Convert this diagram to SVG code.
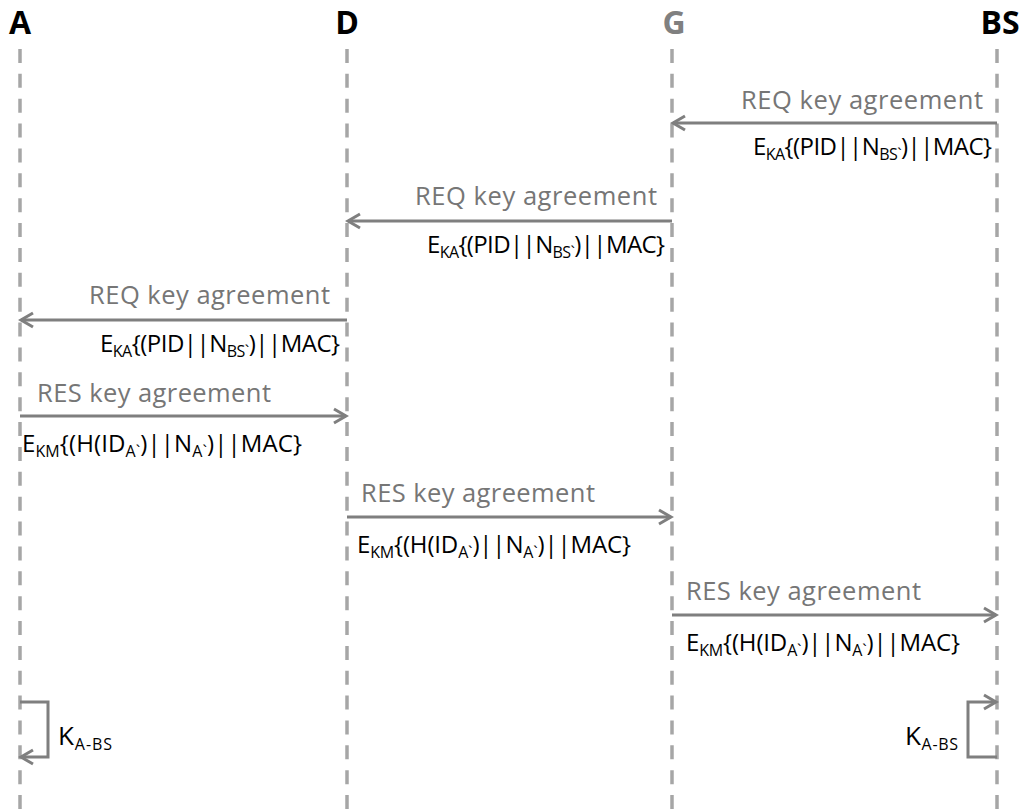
<svg xmlns="http://www.w3.org/2000/svg" width="1023" height="811" viewBox="0 0 1023 811">
  <style>
    .life { stroke: #a6a6a6; stroke-width: 3.5; stroke-dasharray: 14 10.87; fill: none; }
    .msg { stroke: #7f7f7f; stroke-width: 3; fill: none; }
    .head { font-family: "Open Sans", "Noto Sans", sans-serif; font-weight: bold; font-size: 32px; fill: #000; }
    .label { font-family: "Open Sans", "Noto Sans", sans-serif; font-size: 25.5px; fill: #767676; }
    .expr { font-family: "Open Sans", "Noto Sans", sans-serif; font-size: 24px; fill: #000; }
    .key { font-size: 26px; }
    .sub { font-size: 16px; }
  </style>
  <defs>
    <marker id="arrow" markerUnits="userSpaceOnUse" markerWidth="20" markerHeight="20" viewBox="-16 -10 20 20" refX="0" refY="0" orient="auto">
      <path d="M -12 -7 L 0 0 L -12 7" fill="none" stroke="#7f7f7f" stroke-width="3"/>
    </marker>
  </defs>
  <rect width="1023" height="811" fill="#fff"/>

  <!-- participants and lifelines -->
  <g id="A">
    <text class="head" x="20" y="34" text-anchor="middle">A</text>
    <line class="life" x1="20" y1="49" x2="20" y2="811"/>
  </g>
  <g id="D">
    <text class="head" x="347" y="34" text-anchor="middle">D</text>
    <line class="life" x1="347" y1="49" x2="347" y2="811"/>
  </g>
  <g id="G">
    <text class="head" x="674" y="34" text-anchor="middle" style="fill:#808080">G</text>
    <line class="life" x1="672" y1="49" x2="672" y2="811"/>
  </g>
  <g id="BS">
    <text class="head" x="1000" y="34" text-anchor="middle">BS</text>
    <line class="life" x1="997" y1="49" x2="997" y2="811"/>
  </g>

  <!-- messages -->
  <g id="connectors">
    <line class="msg" x1="997" y1="123" x2="673" y2="123" marker-end="url(#arrow)"/>
    <line class="msg" x1="672" y1="221" x2="348" y2="221" marker-end="url(#arrow)"/>
    <line class="msg" x1="347" y1="320" x2="21" y2="320" marker-end="url(#arrow)"/>
    <line class="msg" x1="20" y1="416" x2="346" y2="416" marker-end="url(#arrow)"/>
    <line class="msg" x1="347" y1="517" x2="671" y2="517" marker-end="url(#arrow)"/>
    <line class="msg" x1="672" y1="615" x2="996" y2="615" marker-end="url(#arrow)"/>
    <polyline class="msg" points="20,702 48,702 48,757 21,757" marker-end="url(#arrow)"/>
    <polyline class="msg" points="997,757 968,757 968,702 996,702" marker-end="url(#arrow)"/>
  </g>

  <!-- message labels -->
  <g id="m1">
    <text class="label" x="741" y="109" textLength="242" lengthAdjust="spacing">REQ key agreement</text>
    <text class="expr" x="753" y="155" textLength="239" lengthAdjust="spacing">E<tspan class="sub" dy="5">KA</tspan><tspan dy="-5">{(PID||N</tspan><tspan class="sub" dy="5">BS`</tspan><tspan dy="-5">)||MAC}</tspan></text>
  </g>
  <g id="m2">
    <text class="label" x="415" y="205" textLength="242" lengthAdjust="spacing">REQ key agreement</text>
    <text class="expr" x="427" y="253" textLength="238" lengthAdjust="spacing">E<tspan class="sub" dy="5">KA</tspan><tspan dy="-5">{(PID||N</tspan><tspan class="sub" dy="5">BS`</tspan><tspan dy="-5">)||MAC}</tspan></text>
  </g>
  <g id="m3">
    <text class="label" x="89" y="304" textLength="241" lengthAdjust="spacing">REQ key agreement</text>
    <text class="expr" x="100" y="352" textLength="240" lengthAdjust="spacing">E<tspan class="sub" dy="5">KA</tspan><tspan dy="-5">{(PID||N</tspan><tspan class="sub" dy="5">BS`</tspan><tspan dy="-5">)||MAC}</tspan></text>
  </g>
  <g id="m4">
    <text class="label" x="37" y="402" textLength="234" lengthAdjust="spacing">RES key agreement</text>
    <text class="expr" x="22" y="452" textLength="280" lengthAdjust="spacing">E<tspan class="sub" dy="5">KM</tspan><tspan dy="-5">{(H(ID</tspan><tspan class="sub" dy="5">A`</tspan><tspan dy="-5">)||N</tspan><tspan class="sub" dy="5">A`</tspan><tspan dy="-5">)||MAC}</tspan></text>
  </g>
  <g id="m5">
    <text class="label" x="361" y="502" textLength="234" lengthAdjust="spacing">RES key agreement</text>
    <text class="expr" x="357" y="553" textLength="274" lengthAdjust="spacing">E<tspan class="sub" dy="5">KM</tspan><tspan dy="-5">{(H(ID</tspan><tspan class="sub" dy="5">A`</tspan><tspan dy="-5">)||N</tspan><tspan class="sub" dy="5">A`</tspan><tspan dy="-5">)||MAC}</tspan></text>
  </g>
  <g id="m6">
    <text class="label" x="686" y="600" textLength="235" lengthAdjust="spacing">RES key agreement</text>
    <text class="expr" x="686" y="651" textLength="274" lengthAdjust="spacing">E<tspan class="sub" dy="5">KM</tspan><tspan dy="-5">{(H(ID</tspan><tspan class="sub" dy="5">A`</tspan><tspan dy="-5">)||N</tspan><tspan class="sub" dy="5">A`</tspan><tspan dy="-5">)||MAC}</tspan></text>
  </g>
  <g id="kA">
    <text class="expr key" x="58" y="745" textLength="54" lengthAdjust="spacing">K<tspan class="sub" dy="5">A-BS</tspan></text>
  </g>
  <g id="kBS">
    <text class="expr key" x="905" y="745" textLength="53" lengthAdjust="spacing">K<tspan class="sub" dy="5">A-BS</tspan></text>
  </g>
</svg>
